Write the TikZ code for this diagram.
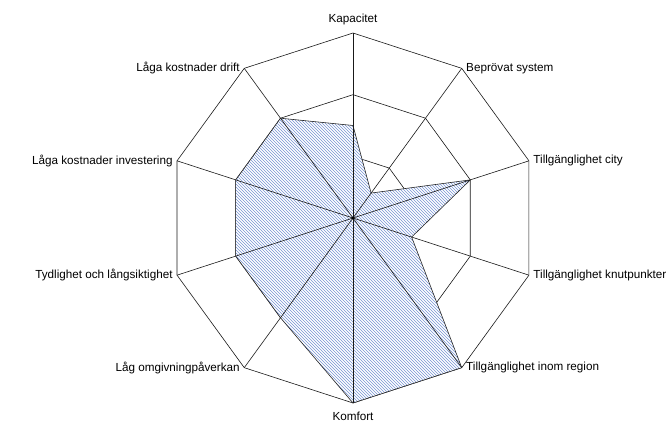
\documentclass[tikz,border=0pt]{standalone}
\usepackage{fontspec}
\setmainfont{Liberation Sans}
\usetikzlibrary{patterns}
\definecolor{hatchblue}{RGB}{120,148,212}

\begin{document}
\begin{tikzpicture}[x=1pt,y=1pt,line width=0.6pt]
\tikzstyle{ring}=[draw=black!90]
\tikzstyle{spoke}=[draw=black!90]
\tikzstyle{axis label}=[font=\fontsize{11.7}{14}\selectfont,inner sep=1.5pt,outer sep=3pt]
\useasboundingbox (-353,-207) rectangle (319,218);

\coordinate (O) at (0,0);

% rings at 1, 2, 3
\foreach \r in {1,2,3}
  \draw[ring] (90:\r*61.667) \foreach \a in {54,18,...,-234} {-- (\a:\r*61.667)} -- cycle;

% scores
\foreach \a/\v [count=\i] in {90/1.5,54/0.5,18/2,-18/1,-54/3,-90/3,-126/2,-162/2,162/2,126/2}
  \coordinate (d\i) at (\a:\v*61.667);
\draw[preaction={fill=white},pattern=north west lines,pattern color=hatchblue,draw=black!85]
  (d1) -- (d2) -- (d3) -- (d4) -- (d5) -- (d6) -- (d7) -- (d8) -- (d9) -- (d10) -- cycle;

% axes and labels
\foreach \a/\txt/\anc/\dy [count=\i] in {
  90/Kapacitet/south/4,
  54/Beprövat system/west/0,
  18/Tillgänglighet city/west/0,
  -18/Tillgänglighet knutpunkter/west/0,
  -54/Tillgänglighet inom region/west/0,
  -90/Komfort/north/-5,
  -126/Låg omgivningpåverkan/east/0,
  -162/Tydlighet och långsiktighet/east/0,
  162/Låga kostnader investering/east/0,
  126/Låga kostnader drift/east/0}
{
  \coordinate (v\i) at (\a:185);
  \draw[spoke] (O) -- (v\i);
  \node[axis label,anchor=\anc,yshift=\dy pt] (l\i) at (v\i) {\txt};
}

\fill (O) circle (1.6pt);
\end{tikzpicture}
\end{document}
